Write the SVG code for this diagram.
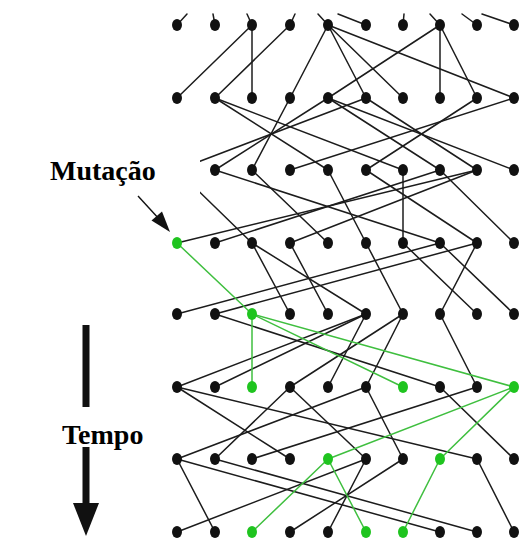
<svg xmlns="http://www.w3.org/2000/svg" xmlns:xlink="http://www.w3.org/1999/xlink" width="527" height="549" viewBox="0 0 527 549">
  <style>
    .edge { stroke: #1c1c1c; stroke-width: 1.5; fill: none; stroke-linecap: round; }
    .edge-g { stroke: #3fbf3f; stroke-width: 1.5; fill: none; stroke-linecap: round; }
    .dot { fill: #111111; }
    .dot-g { fill: #1fc41f; }
    .label { font-family: "Liberation Serif", "Times New Roman", serif; font-weight: bold; font-size: 28px; fill: #000000; }
  </style>
  <defs>
    <ellipse id="pt" cx="0" cy="0" rx="5" ry="6"/>
  </defs>

  <rect x="0" y="0" width="527" height="549" fill="#ffffff"/>

  <!-- lineage edges: each individual linked to its parent in the previous generation -->
  <g id="connectors">
    <!-- stubs to generation above (cut off at the top) -->
    <line class="edge" x1="177" y1="25" x2="187" y2="14"/>
    <line class="edge" x1="215" y1="25" x2="213" y2="14"/>
    <line class="edge" x1="252" y1="25" x2="247" y2="14"/>
    <line class="edge" x1="290" y1="25" x2="295" y2="14"/>
    <line class="edge" x1="328" y1="25" x2="318" y2="14"/>
    <line class="edge" x1="366" y1="25" x2="338" y2="14"/>
    <line class="edge" x1="403" y1="25" x2="404" y2="14"/>
    <line class="edge" x1="440" y1="25" x2="430" y2="14"/>
    <line class="edge" x1="477" y1="25" x2="462" y2="14"/>
    <line class="edge" x1="514" y1="25" x2="482" y2="14"/>

    <!-- generation 1 -> 2 -->
    <line class="edge" x1="252" y1="25" x2="177" y2="98"/>
    <line class="edge" x1="290" y1="25" x2="215" y2="98"/>
    <line class="edge" x1="252" y1="25" x2="252" y2="98"/>
    <line class="edge" x1="328" y1="25" x2="290" y2="98"/>
    <line class="edge" x1="440" y1="25" x2="328" y2="98"/>
    <line class="edge" x1="328" y1="25" x2="366" y2="98"/>
    <line class="edge" x1="328" y1="25" x2="403" y2="98"/>
    <line class="edge" x1="440" y1="25" x2="440" y2="98"/>
    <line class="edge" x1="440" y1="25" x2="477" y2="98"/>
    <line class="edge" x1="328" y1="25" x2="514" y2="98"/>

    <!-- generation 2 -> 3 -->
    <line class="edge" x1="366" y1="98" x2="177" y2="170"/>
    <line class="edge" x1="328" y1="98" x2="215" y2="170"/>
    <line class="edge" x1="290" y1="98" x2="252" y2="170"/>
    <line class="edge" x1="514" y1="98" x2="290" y2="170"/>
    <line class="edge" x1="215" y1="98" x2="328" y2="170"/>
    <line class="edge" x1="477" y1="98" x2="366" y2="170"/>
    <line class="edge" x1="215" y1="98" x2="403" y2="170"/>
    <line class="edge" x1="328" y1="98" x2="440" y2="170"/>
    <line class="edge" x1="366" y1="98" x2="477" y2="170"/>
    <line class="edge" x1="328" y1="98" x2="514" y2="170"/>

    <!-- generation 3 -> 4 -->
    <line class="edge" x1="477" y1="170" x2="177" y2="243"/>
    <line class="edge" x1="440" y1="170" x2="215" y2="243"/>
    <line class="edge" x1="177" y1="170" x2="252" y2="243"/>
    <line class="edge" x1="477" y1="170" x2="290" y2="243"/>
    <line class="edge" x1="252" y1="170" x2="328" y2="243"/>
    <line class="edge" x1="328" y1="170" x2="366" y2="243"/>
    <line class="edge" x1="403" y1="170" x2="403" y2="243"/>
    <line class="edge" x1="215" y1="170" x2="440" y2="243"/>
    <line class="edge" x1="366" y1="170" x2="477" y2="243"/>
    <line class="edge" x1="440" y1="170" x2="514" y2="243"/>

    <!-- generation 4 -> 5 -->
    <line class="edge" x1="440" y1="243" x2="177" y2="314"/>
    <line class="edge" x1="477" y1="243" x2="215" y2="314"/>
    <line class="edge" x1="252" y1="243" x2="290" y2="314"/>
    <line class="edge" x1="290" y1="243" x2="328" y2="314"/>
    <line class="edge" x1="252" y1="243" x2="366" y2="314"/>
    <line class="edge" x1="366" y1="243" x2="403" y2="314"/>
    <line class="edge" x1="477" y1="243" x2="440" y2="314"/>
    <line class="edge" x1="403" y1="243" x2="477" y2="314"/>
    <line class="edge" x1="440" y1="243" x2="514" y2="314"/>

    <!-- generation 5 -> 6 -->
    <line class="edge" x1="366" y1="314" x2="177" y2="387"/>
    <line class="edge" x1="366" y1="314" x2="215" y2="387"/>
    <line class="edge" x1="403" y1="314" x2="290" y2="387"/>
    <line class="edge" x1="366" y1="314" x2="328" y2="387"/>
    <line class="edge" x1="403" y1="314" x2="366" y2="387"/>
    <line class="edge" x1="215" y1="314" x2="440" y2="387"/>
    <line class="edge" x1="440" y1="314" x2="477" y2="387"/>

    <!-- generation 6 -> 7 -->
    <line class="edge" x1="366" y1="387" x2="177" y2="459"/>
    <line class="edge" x1="290" y1="387" x2="215" y2="459"/>
    <line class="edge" x1="477" y1="387" x2="252" y2="459"/>
    <line class="edge" x1="177" y1="387" x2="290" y2="459"/>
    <line class="edge" x1="290" y1="387" x2="366" y2="459"/>
    <line class="edge" x1="366" y1="387" x2="403" y2="459"/>
    <line class="edge" x1="177" y1="387" x2="477" y2="459"/>
    <line class="edge" x1="440" y1="387" x2="514" y2="459"/>

    <!-- generation 7 -> 8 -->
    <line class="edge" x1="366" y1="459" x2="177" y2="532"/>
    <line class="edge" x1="177" y1="459" x2="215" y2="532"/>
    <line class="edge" x1="403" y1="459" x2="290" y2="532"/>
    <line class="edge" x1="366" y1="459" x2="328" y2="532"/>
    <line class="edge" x1="177" y1="459" x2="440" y2="532"/>
    <line class="edge" x1="215" y1="459" x2="477" y2="532"/>
    <line class="edge" x1="477" y1="459" x2="514" y2="532"/>

    <!-- descendants of the mutant -->
    <line class="edge-g" x1="177" y1="243" x2="252" y2="314"/>
    <line class="edge-g" x1="252" y1="314" x2="252" y2="387"/>
    <line class="edge-g" x1="252" y1="314" x2="403" y2="387"/>
    <line class="edge-g" x1="252" y1="314" x2="514" y2="387"/>
    <line class="edge-g" x1="514" y1="387" x2="328" y2="459"/>
    <line class="edge-g" x1="514" y1="387" x2="440" y2="459"/>
    <line class="edge-g" x1="328" y1="459" x2="252" y2="532"/>
    <line class="edge-g" x1="328" y1="459" x2="366" y2="532"/>
    <line class="edge-g" x1="440" y1="459" x2="403" y2="532"/>
  </g>

  <!-- individuals: 8 generations x 10 positions -->
  <g id="nodes">
    <g id="n1-0"><use href="#pt" class="dot" x="177" y="25"/></g>
    <g id="n1-1"><use href="#pt" class="dot" x="215" y="25"/></g>
    <g id="n1-2"><use href="#pt" class="dot" x="252" y="25"/></g>
    <g id="n1-3"><use href="#pt" class="dot" x="290" y="25"/></g>
    <g id="n1-4"><use href="#pt" class="dot" x="328" y="25"/></g>
    <g id="n1-5"><use href="#pt" class="dot" x="366" y="25"/></g>
    <g id="n1-6"><use href="#pt" class="dot" x="403" y="25"/></g>
    <g id="n1-7"><use href="#pt" class="dot" x="440" y="25"/></g>
    <g id="n1-8"><use href="#pt" class="dot" x="477" y="25"/></g>
    <g id="n1-9"><use href="#pt" class="dot" x="514" y="25"/></g>

    <g id="n2-0"><use href="#pt" class="dot" x="177" y="98"/></g>
    <g id="n2-1"><use href="#pt" class="dot" x="215" y="98"/></g>
    <g id="n2-2"><use href="#pt" class="dot" x="252" y="98"/></g>
    <g id="n2-3"><use href="#pt" class="dot" x="290" y="98"/></g>
    <g id="n2-4"><use href="#pt" class="dot" x="328" y="98"/></g>
    <g id="n2-5"><use href="#pt" class="dot" x="366" y="98"/></g>
    <g id="n2-6"><use href="#pt" class="dot" x="403" y="98"/></g>
    <g id="n2-7"><use href="#pt" class="dot" x="440" y="98"/></g>
    <g id="n2-8"><use href="#pt" class="dot" x="477" y="98"/></g>
    <g id="n2-9"><use href="#pt" class="dot" x="514" y="98"/></g>

    <g id="n3-0"><use href="#pt" class="dot" x="177" y="170"/></g>
    <g id="n3-1"><use href="#pt" class="dot" x="215" y="170"/></g>
    <g id="n3-2"><use href="#pt" class="dot" x="252" y="170"/></g>
    <g id="n3-3"><use href="#pt" class="dot" x="290" y="170"/></g>
    <g id="n3-4"><use href="#pt" class="dot" x="328" y="170"/></g>
    <g id="n3-5"><use href="#pt" class="dot" x="366" y="170"/></g>
    <g id="n3-6"><use href="#pt" class="dot" x="403" y="170"/></g>
    <g id="n3-7"><use href="#pt" class="dot" x="440" y="170"/></g>
    <g id="n3-8"><use href="#pt" class="dot" x="477" y="170"/></g>
    <g id="n3-9"><use href="#pt" class="dot" x="514" y="170"/></g>

    <g id="n4-0"><use href="#pt" class="dot-g" x="177" y="243"/></g>
    <g id="n4-1"><use href="#pt" class="dot" x="215" y="243"/></g>
    <g id="n4-2"><use href="#pt" class="dot" x="252" y="243"/></g>
    <g id="n4-3"><use href="#pt" class="dot" x="290" y="243"/></g>
    <g id="n4-4"><use href="#pt" class="dot" x="328" y="243"/></g>
    <g id="n4-5"><use href="#pt" class="dot" x="366" y="243"/></g>
    <g id="n4-6"><use href="#pt" class="dot" x="403" y="243"/></g>
    <g id="n4-7"><use href="#pt" class="dot" x="440" y="243"/></g>
    <g id="n4-8"><use href="#pt" class="dot" x="477" y="243"/></g>
    <g id="n4-9"><use href="#pt" class="dot" x="514" y="243"/></g>

    <g id="n5-0"><use href="#pt" class="dot" x="177" y="314"/></g>
    <g id="n5-1"><use href="#pt" class="dot" x="215" y="314"/></g>
    <g id="n5-2"><use href="#pt" class="dot-g" x="252" y="314"/></g>
    <g id="n5-3"><use href="#pt" class="dot" x="290" y="314"/></g>
    <g id="n5-4"><use href="#pt" class="dot" x="328" y="314"/></g>
    <g id="n5-5"><use href="#pt" class="dot" x="366" y="314"/></g>
    <g id="n5-6"><use href="#pt" class="dot" x="403" y="314"/></g>
    <g id="n5-7"><use href="#pt" class="dot" x="440" y="314"/></g>
    <g id="n5-8"><use href="#pt" class="dot" x="477" y="314"/></g>
    <g id="n5-9"><use href="#pt" class="dot" x="514" y="314"/></g>

    <g id="n6-0"><use href="#pt" class="dot" x="177" y="387"/></g>
    <g id="n6-1"><use href="#pt" class="dot" x="215" y="387"/></g>
    <g id="n6-2"><use href="#pt" class="dot-g" x="252" y="387"/></g>
    <g id="n6-3"><use href="#pt" class="dot" x="290" y="387"/></g>
    <g id="n6-4"><use href="#pt" class="dot" x="328" y="387"/></g>
    <g id="n6-5"><use href="#pt" class="dot" x="366" y="387"/></g>
    <g id="n6-6"><use href="#pt" class="dot-g" x="403" y="387"/></g>
    <g id="n6-7"><use href="#pt" class="dot" x="440" y="387"/></g>
    <g id="n6-8"><use href="#pt" class="dot" x="477" y="387"/></g>
    <g id="n6-9"><use href="#pt" class="dot-g" x="514" y="387"/></g>

    <g id="n7-0"><use href="#pt" class="dot" x="177" y="459"/></g>
    <g id="n7-1"><use href="#pt" class="dot" x="215" y="459"/></g>
    <g id="n7-2"><use href="#pt" class="dot" x="252" y="459"/></g>
    <g id="n7-3"><use href="#pt" class="dot" x="290" y="459"/></g>
    <g id="n7-4"><use href="#pt" class="dot-g" x="328" y="459"/></g>
    <g id="n7-5"><use href="#pt" class="dot" x="366" y="459"/></g>
    <g id="n7-6"><use href="#pt" class="dot" x="403" y="459"/></g>
    <g id="n7-7"><use href="#pt" class="dot-g" x="440" y="459"/></g>
    <g id="n7-8"><use href="#pt" class="dot" x="477" y="459"/></g>
    <g id="n7-9"><use href="#pt" class="dot" x="514" y="459"/></g>

    <g id="n8-0"><use href="#pt" class="dot" x="177" y="532"/></g>
    <g id="n8-1"><use href="#pt" class="dot" x="215" y="532"/></g>
    <g id="n8-2"><use href="#pt" class="dot-g" x="252" y="532"/></g>
    <g id="n8-3"><use href="#pt" class="dot" x="290" y="532"/></g>
    <g id="n8-4"><use href="#pt" class="dot" x="328" y="532"/></g>
    <g id="n8-5"><use href="#pt" class="dot-g" x="366" y="532"/></g>
    <g id="n8-6"><use href="#pt" class="dot-g" x="403" y="532"/></g>
    <g id="n8-7"><use href="#pt" class="dot" x="440" y="532"/></g>
    <g id="n8-8"><use href="#pt" class="dot" x="477" y="532"/></g>
    <g id="n8-9"><use href="#pt" class="dot" x="514" y="532"/></g>
  </g>

  <!-- mutation label with pointer -->
  <g id="label-mutacao">
    <rect x="0" y="145" width="200" height="49" fill="#ffffff"/>
    <text class="label" x="50" y="180">Mutação</text>
    <line x1="138" y1="196" x2="160" y2="220" stroke="#111111" stroke-width="1.4"/>
    <polygon points="170,232 151.5,220.5 162,211.5" fill="#111111"/>
  </g>

  <!-- time axis -->
  <g id="label-tempo">
    <line x1="86" y1="325" x2="86" y2="506" stroke="#111111" stroke-width="7"/>
    <polygon points="73,503 99,503 86,536" fill="#111111"/>
    <rect x="40" y="407" width="140" height="40" fill="#ffffff"/>
    <text class="label" x="62" y="444">Tempo</text>
  </g>
</svg>
